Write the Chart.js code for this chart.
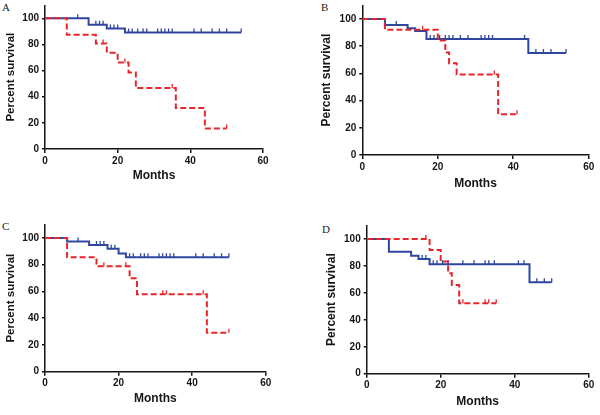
<!DOCTYPE html>
<html lang="en">
<head>
  <meta charset="UTF-8">
  <title>Survival curves</title>
  <script src="https://cdn.jsdelivr.net/npm/chart.js"></script>
  <style>
    body {
      margin: 0;
      background: #fff;
      width: 600px;
      height: 415px;
      position: relative;
      overflow: hidden;
    }
    canvas { position: absolute; }
    .tag {
      position: absolute;
      font-family: 'Liberation Serif', 'Times New Roman', serif;
      font-size: 11px;
      line-height: 11px;
      color: #222;
    }
  </style>
</head>
<body>
  <div class="tag" style="left:2px; top:2px">A</div>
  <div class="tag" style="left:321px; top:2px">B</div>
  <div class="tag" style="left:2px; top:221px">C</div>
  <div class="tag" style="left:322px; top:224px">D</div>

  <canvas id="chartA" width="300" height="200" style="left:0; top:0"></canvas>
  <canvas id="chartB" width="300" height="200" style="left:300px; top:0"></canvas>
  <canvas id="chartC" width="300" height="210" style="left:0; top:205px"></canvas>
  <canvas id="chartD" width="300" height="210" style="left:300px; top:205px"></canvas>

  <script>
    // axis ticks
    const xTicks = [0, 20, 40, 60];
    const yTicks = [0, 20, 40, 60, 80, 100];

    // panel A
    const aBlueTime = [0, 12, 17, 22, 54];
    const aBlueSurv = [100, 95.2, 92.2, 89.1, 89.1];
    const aBlueCensor = [9, 14, 15, 16, 18, 19, 20, 23, 24, 25.5, 27, 28, 31, 32, 33, 34, 35, 41, 43, 46, 48, 50, 54];
    const aRedTime = [0, 6, 14, 17, 20, 23, 25, 36, 44, 50];
    const aRedSurv = [100, 87.5, 80.8, 73.7, 66.2, 58.6, 46.7, 31.3, 15.7, 15.7];
    const aRedCensor = [16, 22, 35, 50];

    // panel B
    const bBlueTime = [0, 6, 12, 14, 17, 44, 54];
    const bBlueSurv = [100, 95.6, 93.2, 91.2, 85.2, 74.9, 74.9];
    const bBlueCensor = [9, 18, 19, 20.5, 22, 23, 24, 26, 28, 31.5, 32.5, 33.5, 34.5, 43, 46, 48, 50, 54];
    const bRedTime = [0, 6, 20, 22, 23, 25, 36, 41];
    const bRedSurv = [100, 92, 84.2, 75.4, 67.4, 59.1, 29.9, 29.9];
    const bRedCensor = [16, 35, 41];

    // panel C
    const cBlueTime = [0, 6, 12, 17, 20, 22, 50];
    const cBlueSurv = [100, 97.3, 94.8, 92, 88.3, 85.5, 85.5];
    const cBlueCensor = [9, 14, 15, 16, 18, 19, 23, 24, 26, 27, 28, 31, 32, 33, 34, 35, 41, 43, 46, 48, 50];
    const cRedTime = [0, 6, 14, 23, 25, 44, 50];
    const cRedSurv = [100, 85.5, 78.8, 69.8, 57.9, 29.2, 29.2];
    const cRedCensor = [16, 22, 32, 33, 43, 50];

    // panel D
    const dBlueTime = [0, 6, 12, 14, 17, 44, 50];
    const dBlueSurv = [100, 90.6, 87.6, 85.1, 81.2, 67.8, 67.8];
    const dBlueCensor = [15, 16, 18, 19, 20.5, 22, 26, 29, 32, 33, 34.5, 41, 42.5, 46, 48, 50];
    const dRedTime = [0, 17, 20, 22, 23, 25, 35];
    const dRedSurv = [100, 91.8, 83.2, 74.5, 65.8, 52.2, 52.2];
    const dRedCensor = [16, 26, 32, 33, 35];

    const BLUE = '#2f46a0';
    const RED = '#e5262b';
    const INK = '#151515';
    const FAMILY = "'Liberation Sans', Arial, sans-serif";

    // survival level at time t (step function)
    function survAt(time, surv, t) {
      let v = surv[0];
      for (let i = 0; i < time.length; i++) {
        if (time[i] <= t) v = surv[i];
      }
      return v;
    }

    function curve(time, surv, color, dash) {
      return {
        data: time.map((t, i) => ({ x: t, y: surv[i] })),
        borderColor: color,
        borderWidth: 2,
        borderDash: dash,
        stepped: true,
        pointRadius: 0,
        fill: false
      };
    }

    function censors(time, surv, cens, color) {
      return {
        data: cens.map(t => ({ x: t, y: survAt(time, surv, t) })),
        showLine: false,
        pointStyle: 'dash',
        pointRotation: 270,
        pointRadius: 4,
        pointBorderWidth: 1.3,
        pointBorderColor: color,
        pointBackgroundColor: color
      };
    }

    function drawPanel(id, lay, datasets) {
      new Chart(document.getElementById(id), {
        type: 'line',
        data: { datasets: datasets },
        options: {
          responsive: false,
          animation: false,
          layout: { padding: { left: 0, right: lay.right, top: lay.top, bottom: 0 } },
          plugins: { legend: { display: false }, tooltip: { enabled: false } },
          scales: {
            x: {
              type: 'linear',
              min: 0,
              max: 60,
              afterBuildTicks: s => { s.ticks = xTicks.map(v => ({ value: v })); },
              afterFit: s => { s.height = lay.xh; s.paddingLeft = 0; s.paddingRight = 0; },
              grid: { drawOnChartArea: false, drawTicks: true, tickLength: 4, color: INK, lineWidth: 1.5 },
              border: { color: INK, width: 1.5 },
              ticks: { color: INK, padding: 2, maxRotation: 0, font: { family: FAMILY, size: 10, weight: 'bold' } },
              title: {
                display: true, text: 'Months', color: INK,
                font: { family: FAMILY, size: 12, weight: 'bold' },
                padding: { top: 0, bottom: lay.xTitle }
              }
            },
            y: {
              type: 'linear',
              min: 0,
              max: 110,
              afterBuildTicks: s => { s.ticks = yTicks.map(v => ({ value: v })); },
              afterFit: s => { s.width = lay.yw; s.paddingTop = 0; s.paddingBottom = 0; },
              grid: { drawOnChartArea: false, drawTicks: true, tickLength: 3, color: INK, lineWidth: 1.5 },
              border: { color: INK, width: 1.5 },
              ticks: { color: INK, padding: 3, font: { family: FAMILY, size: 10, weight: 'bold' } },
              title: {
                display: true, text: 'Percent survival', color: INK,
                font: { family: FAMILY, size: lay.ySize, weight: 'bold' },
                padding: { top: lay.yTitle, bottom: 0 }
              }
            }
          }
        }
      });
    }

    const DASH = [6, 3];

    drawPanel('chartA', { right: 37, top: 3.8, yw: 45, xh: 51, xTitle: 16.8, yTitle: 3.6, ySize: 11.5 }, [
      curve(aRedTime, aRedSurv, RED, DASH),
      censors(aRedTime, aRedSurv, aRedCensor, RED),
      curve(aBlueTime, aBlueSurv, BLUE, []),
      censors(aBlueTime, aBlueSurv, aBlueCensor, BLUE)
    ]);

    drawPanel('chartB', { right: 11.3, top: 4.3, yw: 62.3, xh: 45, xTitle: 9.4, yTitle: 19.8, ySize: 12 }, [
      curve(bRedTime, bRedSurv, RED, DASH),
      censors(bRedTime, bRedSurv, bRedCensor, RED),
      curve(bBlueTime, bBlueSurv, BLUE, []),
      censors(bBlueTime, bBlueSurv, bBlueCensor, BLUE)
    ]);

    drawPanel('chartC', { right: 34.3, top: 19.6, yw: 45, xh: 43.3, xTitle: 8.8, yTitle: 4, ySize: 11.5 }, [
      curve(cRedTime, cRedSurv, RED, DASH),
      censors(cRedTime, cRedSurv, cRedCensor, RED),
      curve(cBlueTime, cBlueSurv, BLUE, []),
      censors(cBlueTime, cBlueSurv, cBlueCensor, BLUE)
    ]);

    drawPanel('chartD', { right: 11.3, top: 20.5, yw: 66.7, xh: 41.3, xTitle: 6.1, yTitle: 24.5, ySize: 12 }, [
      curve(dRedTime, dRedSurv, RED, DASH),
      censors(dRedTime, dRedSurv, dRedCensor, RED),
      curve(dBlueTime, dBlueSurv, BLUE, []),
      censors(dBlueTime, dBlueSurv, dBlueCensor, BLUE)
    ]);
  </script>
</body>
</html>
